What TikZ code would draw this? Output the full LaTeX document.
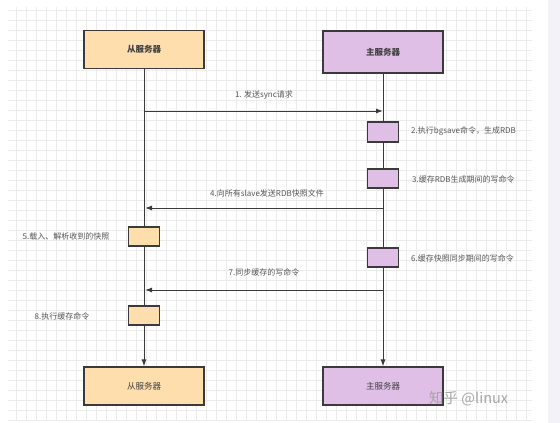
\documentclass[tikz,border=0pt]{standalone}
\usepackage{fontspec}
\setmainfont{Noto Sans CJK SC}
\usetikzlibrary{arrows.meta}

\definecolor{slavefill}{HTML}{FDDEAC}
\definecolor{masterfill}{HTML}{E0BFE6}
\definecolor{edgecol}{HTML}{3A3A3A}
\definecolor{labelcol}{HTML}{555555}
\definecolor{gridcol}{HTML}{EBEBEB}
\definecolor{panelcol}{HTML}{F3F3F7}

\tikzset{
  server/.style={draw=edgecol, line width=1.1pt, inner sep=0pt,
    minimum width=120pt, minimum height=38pt, text=black!75,
    font=\fontsize{8.5}{10}\selectfont},
  slave/.style={server, fill=slavefill},
  master/.style={server, fill=masterfill},
  act/.style={draw=edgecol, line width=1.1pt, inner sep=0pt,
    minimum width=31pt, minimum height=19pt},
  slaveact/.style={act, fill=slavefill},
  masteract/.style={act, fill=masterfill},
  note/.style={text=labelcol, inner sep=0pt, font=\fontsize{8}{9}\selectfont},
  msg/.style={draw=edgecol, line width=1pt, -{Latex[length=7pt,width=5pt]}},
  gridline/.style={draw=gridcol, line width=0.6pt},
}

\begin{document}
\begin{tikzpicture}[x=1pt, y=-1pt]
  \useasboundingbox (0,0) rectangle (560,423);
  \fill[white] (0,0) rectangle (560,423);
  \fill[panelcol] (548,0) rectangle (560,423);

  % background grid
  \foreach \x in {16,26,...,526} \draw[gridline] (\x,7) -- (\x,420);
  \foreach \y in {10,20,...,420} \draw[gridline] (8,\y) -- (532,\y);

  % participants
  \node[slave, font=\fontsize{8.5}{10}\selectfont\bfseries] (slaveTop) at (144,49.5) {从服务器};
  \node[master, minimum height=42pt, font=\fontsize{8.5}{10}\selectfont\bfseries] (masterTop) at (383,52) {主服务器};
  \node[slave] (slaveBot) at (144,386) {从服务器};
  \node[master] (masterBot) at (383,386) {主服务器};

  % lifelines
  \draw[msg] (slaveTop.south) -- (slaveBot.north);
  \draw[msg] (masterTop.south) -- (masterBot.north);

  % activation boxes
  \node[masteract, minimum height=20pt] (act2) at (383,132) {};
  \node[masteract] (act3) at (383,178.5) {};
  \node[slaveact] (act5) at (144,236.5) {};
  \node[masteract] (act6) at (383,257.5) {};
  \node[slaveact] (act8) at (144,315.5) {};

  % message end points on the lifelines
  \coordinate (s1) at (144,111);
  \coordinate (m1) at (383,111);
  \coordinate (m4) at (383,208);
  \coordinate (s4) at (145,208);
  \coordinate (m7) at (383,290);
  \coordinate (s7) at (145,290);

  % messages
  \draw[msg] (s1) -- (m1);
  \draw[msg] (m4) -- (s4);
  \draw[msg] (m7) -- (s7);

  % step notes
  \node[note] (n1) at (264,95) {1. 发送sync请求};
  \node[note, anchor=west] (n2) at (411,131) {2.执行bgsave命令，生成RDB};
  \node[note, anchor=west] (n3) at (412,179) {3.缓存RDB生成期间的写命令};
  \node[note] (n4) at (267,193) {4.向所有slave发送RDB快照文件};
  \node[note] (n5) at (66,236) {5.载入、解析收到的快照};
  \node[note, anchor=west] (n6) at (411,258) {6.缓存快照同步期间的写命令};
  \node[note] (n7) at (264,272) {7.同步缓存的写命令};
  \node[note] (n8) at (62,316) {8.执行缓存命令};

  % watermark
  \node[text=black!35, inner sep=0pt, anchor=west, font=\fontsize{14.5}{16}\selectfont] (wm) at (429,399) {知乎 @linux};
\end{tikzpicture}
\end{document}
